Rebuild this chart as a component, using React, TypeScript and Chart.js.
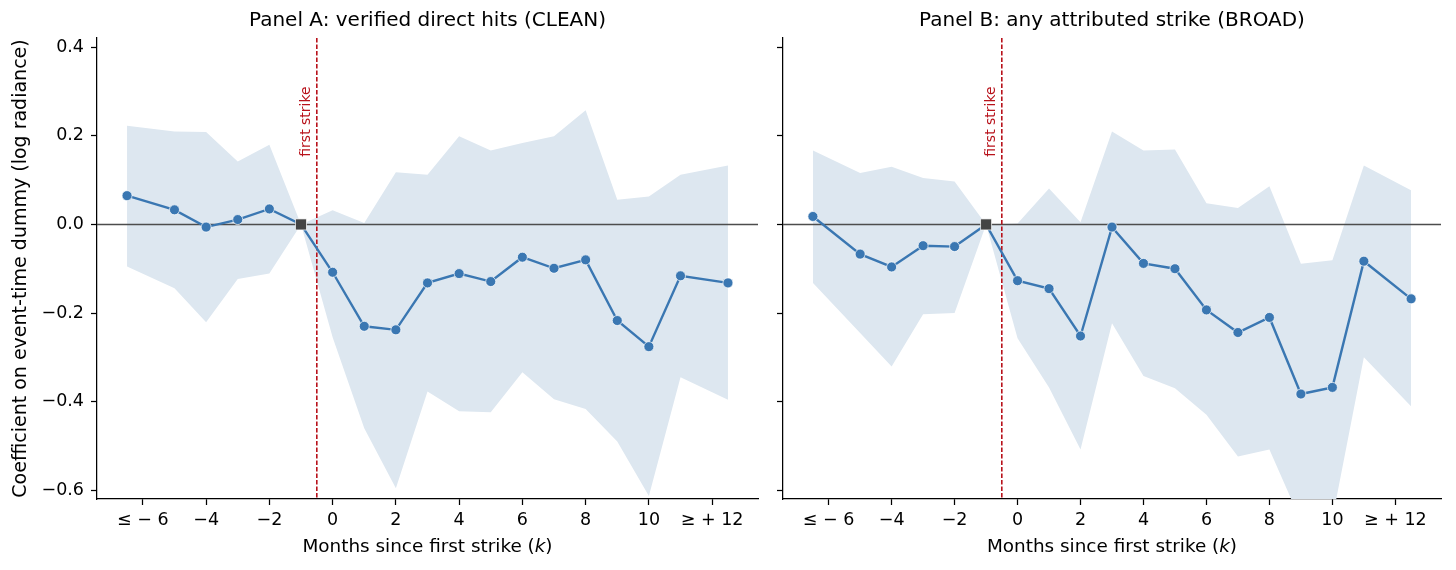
import { useEffect, useRef } from "react";
import { Chart, registerables } from "chart.js";

Chart.register(...registerables);

// event time k; the end bins (<= -6, >= +12) sit at -6.5 and 12.5
const K = [-6.5, -5, -4, -3, -2, -1, 0, 1, 2, 3, 4, 5, 6, 7, 8, 9, 10, 11, 12.5];

const CLEAN_COEF = [0.065, 0.033, -0.006, 0.011, 0.035, 0, -0.108, -0.23, -0.238, -0.132, -0.111, -0.129, -0.074, -0.099, -0.08, -0.217, -0.276, -0.116, -0.132];
const CLEAN_HI = [0.223, 0.21, 0.209, 0.142, 0.18, 0, 0.032, 0.003, 0.118, 0.112, 0.199, 0.167, 0.184, 0.199, 0.258, 0.056, 0.063, 0.112, 0.133];
const CLEAN_LO = [-0.095, -0.144, -0.221, -0.123, -0.111, 0, -0.255, -0.46, -0.596, -0.377, -0.422, -0.424, -0.334, -0.395, -0.417, -0.49, -0.613, -0.345, -0.396];

const BROAD_COEF = [0.018, -0.067, -0.096, -0.048, -0.05, 0, -0.127, -0.145, -0.252, -0.006, -0.088, -0.1, -0.193, -0.244, -0.21, -0.383, -0.368, -0.083, -0.168];
const BROAD_HI = [0.167, 0.116, 0.13, 0.105, 0.097, 0, 0.002, 0.081, 0.005, 0.21, 0.167, 0.169, 0.048, 0.037, 0.086, -0.089, -0.081, 0.133, 0.077];
const BROAD_LO = [-0.132, -0.245, -0.321, -0.203, -0.2, 0, -0.257, -0.368, -0.508, -0.223, -0.342, -0.37, -0.43, -0.524, -0.508, -0.67, -0.665, -0.3, -0.411];

const X_TICKS = [-6, -4, -2, 0, 2, 4, 6, 8, 10, 12];
const X_TICK_LABELS = ["≤ − 6", "−4", "−2", "0", "2", "4", "6", "8", "10", "≥ + 12"];
const Y_TICKS = [-0.6, -0.4, -0.2, 0, 0.2, 0.4];
const Y_TICK_LABELS = ["−0.6", "−0.4", "−0.2", "0.0", "0.2", "0.4"];

const REF_K = -1;
const EVENT_X = -0.5;

const BLUE = "#3a77b2";
const BAND = "#dde7f0";
const RED = "#b8121b";
const FONT = "'DejaVu Sans', sans-serif";

Chart.defaults.font.family = FONT;
Chart.defaults.color = "#000";

const annotations = {
  id: "annotations",
  beforeDatasetDraw(chart: any, args: any) {
    if (args.index !== 0) return;
    const { ctx, chartArea, scales } = chart;
    ctx.save();
    const y0 = scales.y.getPixelForValue(0);
    ctx.strokeStyle = "#4d4d4d";
    ctx.lineWidth = 1.4;
    ctx.beginPath();
    ctx.moveTo(chartArea.left, y0);
    ctx.lineTo(chartArea.right, y0);
    ctx.stroke();

    const xe = scales.x.getPixelForValue(EVENT_X);
    ctx.strokeStyle = RED;
    ctx.lineWidth = 1.6;
    ctx.setLineDash([4.5, 2]);
    ctx.beginPath();
    ctx.moveTo(xe, chartArea.top);
    ctx.lineTo(xe, chartArea.bottom);
    ctx.stroke();
    ctx.restore();
  },
  afterDraw(chart: any) {
    const { ctx, chartArea, scales } = chart;
    ctx.save();
    // "first strike" label beside the event line
    const xe = scales.x.getPixelForValue(EVENT_X);
    const yt = scales.y.getPixelForValue(0.312);
    ctx.translate(xe - 7, yt);
    ctx.rotate(-Math.PI / 2);
    ctx.font = `14px ${FONT}`;
    ctx.fillStyle = RED;
    ctx.textAlign = "right";
    ctx.textBaseline = "alphabetic";
    ctx.fillText("first strike", 0, 0);
    ctx.restore();

    // x-axis title with an italic k
    ctx.save();
    const a = "Months since first strike (";
    const b = "k";
    const c = ")";
    const upright = `18.4px ${FONT}`;
    const italic = `italic 18.4px ${FONT}`;
    ctx.font = upright;
    const wa = ctx.measureText(a).width;
    const wc = ctx.measureText(c).width;
    ctx.font = italic;
    const wb = ctx.measureText(b).width;
    let x = (chartArea.left + chartArea.right) / 2 - (wa + wb + wc) / 2;
    const y = 552;
    ctx.fillStyle = "#000";
    ctx.textBaseline = "alphabetic";
    ctx.textAlign = "left";
    ctx.font = upright;
    ctx.fillText(a, x, y);
    x += wa;
    ctx.font = italic;
    ctx.fillText(b, x, y);
    x += wb;
    ctx.font = upright;
    ctx.fillText(c, x, y);
    ctx.restore();
  },
};

interface PanelProps {
  title: string;
  coef: number[];
  hi: number[];
  lo: number[];
  showYLabels: boolean;
  width: number;
  left: number;
  axisWidth: number;
  padRight: number;
}

function Panel({ title, coef, hi, lo, showYLabels, width, left, axisWidth, padRight }: PanelProps) {
  const canvasRef = useRef<HTMLCanvasElement>(null);
  const chartRef = useRef<Chart | null>(null);

  useEffect(() => {
    if (!canvasRef.current) return;
    const ctx = canvasRef.current.getContext("2d");
    if (!ctx) return;
    if (chartRef.current) chartRef.current.destroy();

    const pts = (vals: number[]) => K.map((k, i) => ({ x: k, y: vals[i] }));
    const isRef = (c: any) => c.raw && c.raw.x === REF_K;

    chartRef.current = new Chart(ctx, {
      type: "line",
      data: {
        datasets: [
          {
            data: pts(coef),
            borderColor: BLUE,
            borderWidth: 2.4,
            pointRadius: (c: any) => (isRef(c) ? 7.8 : 5),
            pointStyle: (c: any) => (isRef(c) ? "rect" : "circle"),
            pointBackgroundColor: (c: any) => (isRef(c) ? "#444444" : BLUE),
            pointBorderColor: "#ffffff",
            pointBorderWidth: 0.7,
            fill: false,
          },
          {
            data: pts(hi),
            borderWidth: 0,
            pointRadius: 0,
            backgroundColor: BAND,
            fill: "+1",
          },
          {
            data: pts(lo),
            borderWidth: 0,
            pointRadius: 0,
            fill: false,
          },
        ],
      },
      options: {
        animation: false,
        responsive: false,
        devicePixelRatio: 1,
        layout: { padding: { left: 0, right: padRight, top: 0, bottom: 0 } },
        plugins: {
          legend: { display: false },
          tooltip: { enabled: false },
          title: {
            display: true,
            text: title,
            fullSize: false,
            font: { size: 20, weight: "normal", family: FONT },
            color: "#000",
            padding: { top: 9, bottom: 5 },
          },
        },
        scales: {
          x: {
            type: "linear",
            min: -7.45,
            max: 13.45,
            afterBuildTicks: (s: any) => {
              s.ticks = X_TICKS.map((v) => ({ value: v }));
            },
            afterFit: (s: any) => {
              s.height = 71;
            },
            ticks: {
              autoSkip: false,
              maxRotation: 0,
              padding: 5,
              font: { size: 17.5, family: FONT },
              color: "#000",
              callback: (v: any) => X_TICK_LABELS[X_TICKS.indexOf(Number(v))] ?? "",
            },
            grid: { drawOnChartArea: false, drawTicks: true, tickLength: 6, tickColor: "#000", tickWidth: 1.25 },
            border: { display: true, color: "#000", width: 1.25 },
          },
          y: {
            type: "linear",
            min: -0.62,
            max: 0.421,
            afterBuildTicks: (s: any) => {
              s.ticks = Y_TICKS.map((v) => ({ value: v }));
            },
            afterFit: (s: any) => {
              s.width = axisWidth;
            },
            ticks: {
              display: showYLabels,
              padding: 7,
              font: { size: 17.5, family: FONT },
              color: "#000",
              callback: (v: any) => {
                const i = Y_TICKS.findIndex((t) => Math.abs(t - Number(v)) < 1e-9);
                return i >= 0 ? Y_TICK_LABELS[i] : "";
              },
            },
            title: {
              display: showYLabels,
              text: "Coefficient on event-time dummy (log radiance)",
              font: { size: 19, family: FONT },
              color: "#000",
              padding: { top: 10, bottom: 0 },
            },
            grid: { drawOnChartArea: false, drawTicks: true, tickLength: 6, tickColor: "#000", tickWidth: 1.25 },
            border: { display: true, color: "#000", width: 1.25 },
          },
        },
      } as any,
      plugins: [annotations],
    });

    return () => {
      chartRef.current?.destroy();
      chartRef.current = null;
    };
  }, [title, coef, hi, lo, showYLabels, axisWidth, padRight]);

  return (
    <canvas
      ref={canvasRef}
      width={width}
      height={570}
      style={{ position: "absolute", left, top: 0, width, height: 570 }}
    />
  );
}

export default function App() {
  return (
    <div style={{ position: "absolute", left: 0, top: 0, width: 1456, height: 570, background: "#fff" }}>
      <Panel
        title="Panel A: verified direct hits (CLEAN)"
        coef={CLEAN_COEF}
        hi={CLEAN_HI}
        lo={CLEAN_LO}
        showYLabels={true}
        width={770}
        left={0}
        axisWidth={97}
        padRight={12}
      />
      <Panel
        title="Panel B: any attributed strike (BROAD)"
        coef={BROAD_COEF}
        hi={BROAD_HI}
        lo={BROAD_LO}
        showYLabels={false}
        width={686}
        left={770}
        axisWidth={13}
        padRight={15}
      />
    </div>
  );
}
